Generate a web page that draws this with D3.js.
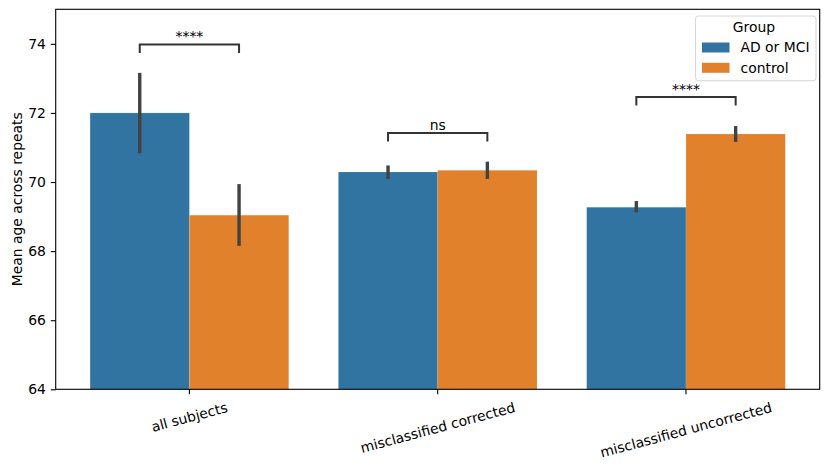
<!DOCTYPE html>
<html>
<head>
<meta charset="utf-8">
<script src="https://cdn.jsdelivr.net/npm/d3@7"></script>
<style>
  body { margin: 0; background: #fff; }
  text { font-family: "DejaVu Sans", sans-serif; }
</style>
</head>
<body>
<svg id="chart"></svg>
<script>
const width = 830;
const height = 467;

// data
const categories = ["all subjects", "misclassified corrected", "misclassified uncorrected"];
const groups = ["AD or MCI", "control"];
const meanAD = [72.0, 70.29, 69.27];
const meanControl = [69.04, 70.34, 71.39];
const ciLowAD = [70.83, 70.09, 69.12];
const ciHighAD = [73.16, 70.48, 69.45];
const ciLowControl = [68.15, 70.09, 71.16];
const ciHighControl = [69.94, 70.59, 71.62];
const yTicks = [64, 66, 68, 70, 72, 74];
const sigLabels = ["****", "ns", "****"];
const sigLevels = [73.98, 71.42, 72.46];

const colors = ["#3274a1", "#e1812c"];
const fontSize = 13.9;
const tickLen = 4.9;
const tickPad = 4.9;

const margin = { left: 55.7, right: 830 - 819.7, top: 9.3, bottom: 467 - 389.3 };

const svg = d3.select("#chart")
    .attr("width", width)
    .attr("height", height);

const x = d3.scaleBand()
    .domain(categories)
    .range([margin.left, width - margin.right])
    .paddingInner(0)
    .paddingOuter(0.0385);

const xSub = d3.scaleBand()
    .domain(groups)
    .range([0.1 * x.bandwidth(), 0.9 * x.bandwidth()]);

const y = d3.scaleLinear()
    .domain([64, 75])
    .range([height - margin.bottom, margin.top]);

const rows = [];
categories.forEach((c, i) => {
    rows.push({ cat: c, group: groups[0], mean: meanAD[i], lo: ciLowAD[i], hi: ciHighAD[i], color: colors[0] });
    rows.push({ cat: c, group: groups[1], mean: meanControl[i], lo: ciLowControl[i], hi: ciHighControl[i], color: colors[1] });
});

// bars
svg.append("g")
    .selectAll("rect")
    .data(rows)
    .join("rect")
    .attr("x", d => x(d.cat) + xSub(d.group))
    .attr("y", d => y(d.mean))
    .attr("width", xSub.bandwidth())
    .attr("height", d => y(64) - y(d.mean))
    .attr("fill", d => d.color)
    .attr("stroke", "rgba(255,255,255,0.15)")
    .attr("stroke-width", 0.8);

// error bars
svg.append("g")
    .selectAll("line")
    .data(rows)
    .join("line")
    .attr("x1", d => x(d.cat) + xSub(d.group) + xSub.bandwidth() / 2)
    .attr("x2", d => x(d.cat) + xSub(d.group) + xSub.bandwidth() / 2)
    .attr("y1", d => y(d.lo))
    .attr("y2", d => y(d.hi))
    .attr("stroke", "#424242")
    .attr("stroke-width", 3.4);

// significance brackets
const tip = 8.5;
const sig = svg.append("g");
categories.forEach((c, i) => {
    const x1 = x(c) + xSub(groups[0]) + xSub.bandwidth() / 2;
    const x2 = x(c) + xSub(groups[1]) + xSub.bandwidth() / 2;
    const yy = y(sigLevels[i]);
    sig.append("path")
        .attr("d", `M${x1},${yy + tip}V${yy}H${x2}V${yy + tip}`)
        .attr("fill", "none")
        .attr("stroke", "#333")
        .attr("stroke-width", 2);
    sig.append("text")
        .attr("x", (x1 + x2) / 2)
        .attr("y", yy - 3.2)
        .attr("text-anchor", "middle")
        .style("font-size", fontSize + "px")
        .text(sigLabels[i]);
});

// y axis
const yAxis = svg.append("g")
    .attr("transform", `translate(${margin.left},0)`)
    .call(d3.axisLeft(y).tickValues(yTicks).tickSize(tickLen).tickPadding(tickPad).tickFormat(d3.format("d")));
yAxis.select(".domain").remove();
yAxis.selectAll("line").attr("stroke", "#000").attr("stroke-width", 1.1);
yAxis.selectAll("text")
    .style("font-size", fontSize + "px")
    .style("font-family", "DejaVu Sans")
    .attr("fill", "#000");

// x axis
const xAxis = svg.append("g")
    .attr("transform", `translate(0,${height - margin.bottom})`)
    .call(d3.axisBottom(x).tickSize(tickLen).tickFormat(""));
xAxis.select(".domain").remove();
xAxis.selectAll("line").attr("stroke", "#000").attr("stroke-width", 1.1);

// rotated category labels, box centred under tick like matplotlib
const ang = 15 * Math.PI / 180;
const labelTop = height - margin.bottom + tickLen + tickPad;
categories.forEach(c => {
    const t = svg.append("text")
        .style("font-size", fontSize + "px")
        .attr("text-anchor", "middle")
        .attr("dominant-baseline", "central")
        .text(c);
    const L = t.node().getComputedTextLength();
    const hgt = fontSize * 1.16;
    const boxH = L * Math.sin(ang) + hgt * Math.cos(ang);
    const cx = x(c) + x.bandwidth() / 2;
    const cy = labelTop + boxH / 2;
    t.attr("transform", `translate(${cx},${cy}) rotate(-15)`);
});

// y label
svg.append("text")
    .attr("transform", `translate(16.5,${(margin.top + height - margin.bottom) / 2}) rotate(-90)`)
    .attr("text-anchor", "middle")
    .attr("dominant-baseline", "central")
    .style("font-size", fontSize + "px")
    .text("Mean age across repeats");

// frame
svg.append("rect")
    .attr("x", margin.left)
    .attr("y", margin.top)
    .attr("width", width - margin.left - margin.right)
    .attr("height", height - margin.top - margin.bottom)
    .attr("fill", "none")
    .attr("stroke", "#000")
    .attr("stroke-width", 1.1);

// legend
const lg = svg.append("g").attr("transform", "translate(695.5,16)");
lg.append("rect")
    .attr("width", 120.5)
    .attr("height", 64.7)
    .attr("rx", 3)
    .attr("fill", "rgba(255,255,255,0.8)")
    .attr("stroke", "#d6d6d6")
    .attr("stroke-width", 1);
lg.append("text")
    .attr("x", 58.5)
    .attr("y", 16.3)
    .attr("text-anchor", "middle")
    .style("font-size", fontSize + "px")
    .text("Group");
groups.forEach((g, i) => {
    lg.append("rect")
        .attr("x", 6.5)
        .attr("y", 26.5 + i * 20.3)
        .attr("width", 27.5)
        .attr("height", 10)
        .attr("fill", colors[i]);
    lg.append("text")
        .attr("x", 45)
        .attr("y", 36.4 + i * 20.3)
        .style("font-size", fontSize + "px")
        .text(g);
});
</script>
</body>
</html>
